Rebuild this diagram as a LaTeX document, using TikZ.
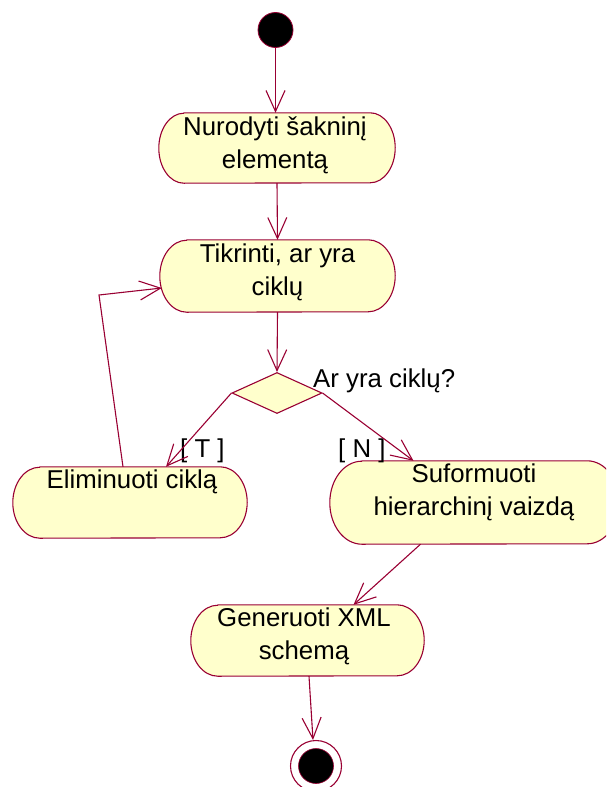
\documentclass[tikz,border=0pt]{standalone}
\usepackage{fontspec}
\setmainfont{Liberation Sans}
\usetikzlibrary{arrows.meta,shapes.geometric,calc}
\definecolor{actfill}{RGB}{255,255,204}
\definecolor{actline}{RGB}{153,0,51}
% activity state: a box with half-elliptical ends
% #1 name, #2 centre x, #3 centre y, #4 width, #5 height, #6 end radius
\newcommand\actstate[6]{%
  \node[actframe, minimum width=#4pt, minimum height=#5pt] (#1) at (#2,#3) {};
  \pgfmathsetmacro\acthh{#5/2}%
  \draw[actoutline] ($(#1.north west)+(#6,0)$) -- ($(#1.north east)+(-#6,0)$)
    arc[start angle=90, end angle=-90, x radius=#6pt, y radius=\acthh pt]
    -- ($(#1.south west)+(#6,0)$)
    arc[start angle=270, end angle=90, x radius=#6pt, y radius=\acthh pt] -- cycle;
}
\begin{document}
\begin{tikzpicture}[x=1pt,y=-1pt,
  actframe/.style={rectangle, draw=none, inner sep=0pt},
  actoutline/.style={draw=actline, fill=actfill, line width=1.1pt, line join=round},
  decision/.style={draw=actline, fill=actfill, line width=1.1pt, diamond,
                   inner sep=0pt, minimum width=90pt, minimum height=41pt},
  txt/.style={font=\fontsize{25.8}{33}\selectfont, align=center, inner sep=0pt, text=black},
  guard/.style={font=\fontsize{25.8}{33}\selectfont, inner sep=0pt, text=black, anchor=base west},
  flow/.style={draw=actline, line width=1.1pt, -{Straight Barb[length=21pt,width=19pt]}},
  startstate/.style={circle, fill=black, draw=actline, line width=0.8pt, minimum size=35pt, inner sep=0pt},
  endring/.style={circle, fill=white, draw=actline, line width=1.1pt, minimum size=51pt, inner sep=0pt},
  enddot/.style={circle, fill=black, draw=actline, line width=0.6pt, minimum size=35pt, inner sep=0pt}]
  \useasboundingbox (0,0) rectangle (606,787);
  \clip (0,0) rectangle (606,787);

  % states
  \node[startstate] (start) at (275.5,30) {};
  \actstate{n1}{277}{148}{236}{70}{25}
  \node[txt] (t1) at (275,145) {Nurodyti šakninį\\elementą};
  \actstate{n2}{277.5}{276}{235}{72}{27}
  \node[txt] (t2) at (277.5,272) {Tikrinti, ar yra\\ciklų};
  \node[decision] (dec) at (277,393) {};
  \node[guard] (q) at (313,387) {Ar yra ciklų?};
  \actstate{n3}{130}{502.5}{234}{71}{27}
  \node[txt] (t3) at (132,482) {Eliminuoti ciklą};
  \actstate{n4}{474.5}{502.5}{289}{83}{32}
  \node[txt] (t4) at (474,492) {Suformuoti\\hierarchinį vaizdą};
  \actstate{n5}{307.5}{640.5}{233}{71}{27}
  \node[txt] (t5) at (304,636) {Generuoti XML\\schemą};
  \node[endring] (end) at (316,766) {};
  \node[enddot] (enddot) at (end.center) {};

  % guards
  \node[guard] (gT) at (180,457) {[ T ]};
  \node[guard] (gN) at (338,457) {[ N ]};

  % transitions
  \draw[flow] (start.south) -- (start.south |- n1.north);
  \draw[flow] (n1.south) -- (n2.north);
  \draw[flow] (n2.south) -- (dec.north);
  \draw[flow] (dec.west) -- ($(n3.north)+(36,0)$);
  \draw[flow] (dec.east) -- ($(n4.north)+(-61,0)$);
  \coordinate (bend) at (99,295);
  \draw[flow] ($(n3.north)+(-7,0)$) -- (bend) -- ($(n2.west)+(2,12)$);
  \draw[flow] ($(n4.south)+(-54,0)$) -- ($(n5.north)+(46,0)$);
  \draw[flow] ($(n5.south)+(1.5,0)$) -- ($(end.north)+(-3,0)$);
\end{tikzpicture}
\end{document}
